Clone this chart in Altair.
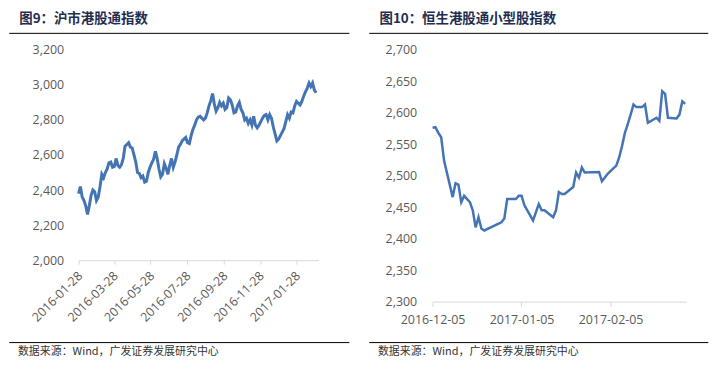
import altair as alt
import pandas as pd

# ---------------- data ----------------
left_title = "图9：沪市港股通指数"
right_title = "图10：恒生港股通小型股指数"
source_text = "数据来源：Wind，广发证券发展研究中心"

# Left: 沪市港股通指数, sampled every 3 days from 2016-01-28
left_start = "2016-01-28"
left_values = [
    2380, 2420, 2360, 2340, 2310, 2260, 2310, 2370, 2400, 2390,
    2340, 2360, 2420, 2490, 2470, 2500, 2520, 2555, 2560, 2530,
    2535, 2580, 2540, 2530, 2545, 2580, 2650, 2660, 2670, 2645,
    2640, 2600, 2560, 2500, 2495, 2470, 2480, 2445, 2450, 2500,
    2530, 2555, 2575, 2620, 2580, 2520, 2475, 2490, 2550, 2525,
    2490, 2540, 2580, 2530, 2560, 2600, 2645, 2660, 2680, 2690,
    2700, 2670, 2665, 2710, 2745, 2770, 2800, 2815, 2820, 2810,
    2800, 2810, 2840, 2880, 2910, 2950, 2890, 2850, 2870, 2900,
    2880, 2895, 2860, 2870, 2925, 2915, 2885, 2840, 2845, 2880,
    2900, 2860, 2840, 2800, 2810, 2780, 2800, 2770, 2820, 2770,
    2755, 2770, 2790, 2810, 2825, 2830, 2800, 2830, 2810, 2760,
    2720, 2680, 2690, 2710, 2730, 2750, 2790, 2830, 2810, 2845,
    2840, 2880, 2905, 2895, 2885, 2905, 2935, 2960, 2980, 3010,
    2990, 3010, 2970, 2955,
]
left_ticks = ["2016-01-28", "2016-03-28", "2016-05-28", "2016-07-28",
              "2016-09-28", "2016-11-28", "2017-01-28"]
left_domain = ["2016-01-28", "2017-03-06"]
left_y_ticks = [2000, 2200, 2400, 2600, 2800, 3000, 3200]

# Right: 恒生港股通小型股指数
right_dates = [
    "2016-12-05", "2016-12-06", "2016-12-07", "2016-12-08", "2016-12-09",
    "2016-12-12", "2016-12-13", "2016-12-14", "2016-12-15", "2016-12-16",
    "2016-12-18", "2016-12-19", "2016-12-20", "2016-12-21", "2016-12-22",
    "2016-12-23", "2016-12-28", "2016-12-29", "2016-12-30", "2016-12-31",
    "2017-01-03", "2017-01-04", "2017-01-05", "2017-01-06", "2017-01-09",
    "2017-01-11", "2017-01-12", "2017-01-13", "2017-01-16", "2017-01-17",
    "2017-01-18", "2017-01-19", "2017-01-20", "2017-01-23", "2017-01-24",
    "2017-01-25", "2017-01-26", "2017-01-27", "2017-02-01", "2017-02-02",
    "2017-02-04", "2017-02-07", "2017-02-08", "2017-02-09", "2017-02-10",
    "2017-02-11", "2017-02-12", "2017-02-13", "2017-02-14", "2017-02-16",
    "2017-02-17", "2017-02-18", "2017-02-21", "2017-02-22", "2017-02-23",
    "2017-02-24", "2017-02-25", "2017-02-28", "2017-03-01", "2017-03-02",
    "2017-03-03",
]
right_values = [
    2576, 2577, 2568, 2561, 2524,
    2466, 2488, 2486, 2458, 2468,
    2458, 2445, 2418, 2434, 2416,
    2413, 2424, 2426, 2432, 2463,
    2463, 2468, 2468, 2453, 2429,
    2455, 2445, 2445, 2434, 2445,
    2474, 2471, 2471, 2482, 2505,
    2497, 2513, 2505, 2506, 2491,
    2503, 2516, 2529, 2547, 2568,
    2582, 2597, 2613, 2609, 2609,
    2613, 2584, 2592, 2587, 2634,
    2630, 2592, 2591, 2597, 2618,
    2614,
]
right_ticks = ["2016-12-05", "2017-01-05", "2017-02-05"]
right_domain = ["2016-12-05", "2017-03-03T08:00:00"]
right_y_ticks = [2300, 2350, 2400, 2450, 2500, 2550, 2600, 2650, 2700]


def dt(s):
    t = pd.Timestamp(s)
    return alt.DateTime(year=t.year, month=t.month, date=t.day, hours=t.hour)


LINE = "#4474B4"
AXIS_GRAY = "#D9D9D9"
LABEL_GRAY = "#595959"
TITLE_COLOR = "#1F2D50"
FONT = "Open Sans"
CJK = "Noto Sans CJK SC"


def decorations(title, w_left, w_right, title_dx, src_dx):
    one = pd.DataFrame({"t": [title], "s": [source_text]})
    base = alt.Chart(one)
    # white spacer that fixes the top edge of the drawing
    spacer = base.mark_rule(color="#ffffff", strokeWidth=1).encode(
        x=alt.value(w_left), x2=alt.value(w_right), y=alt.value(-40))
    top_rule = base.mark_rule(color="#000000", strokeWidth=1).encode(
        x=alt.value(w_left), x2=alt.value(w_right), y=alt.value(-16.5))
    bottom_rule = base.mark_rule(color="#000000", strokeWidth=1).encode(
        x=alt.value(w_left), x2=alt.value(w_right), y=alt.value(294.5))
    ttl = base.mark_text(font=CJK, fontSize=13.5, fontWeight="bold",
                         color=TITLE_COLOR, align="left", baseline="middle").encode(
        x=alt.value(title_dx), y=alt.value(-31), text="t:N")
    src = base.mark_text(font=CJK, fontSize=11, color="#333333",
                         align="left", baseline="middle").encode(
        x=alt.value(src_dx), y=alt.value(303.5), text="s:N")
    return [spacer, top_rule, bottom_rule, ttl, src]


# ---------- left panel ----------
left_df = pd.DataFrame({
    "date": pd.date_range(left_start, periods=len(left_values), freq="3D"),
    "value": left_values,
})
left_line = alt.Chart(left_df).mark_line(color=LINE, strokeWidth=3).encode(
    x=alt.X("date:T",
            scale=alt.Scale(domain=[dt(d) for d in left_domain], nice=False),
            axis=alt.Axis(values=[dt(d) for d in left_ticks], format="%Y-%m-%d",
                          labelAngle=-45, labelOverlap=False, labelFlush=False,
                          title=None, grid=False,
                          tickSize=4, labelPadding=5, labelOffset=-3,
                          tickColor=AXIS_GRAY, domainColor=AXIS_GRAY,
                          labelColor=LABEL_GRAY, labelFont=FONT, labelFontSize=12.5)),
    y=alt.Y("value:Q",
            scale=alt.Scale(domain=[2000, 3200], nice=False, zero=False),
            axis=alt.Axis(values=left_y_ticks, format=",.0f", title=None, grid=False,
                          domain=False, ticks=False, labelPadding=15, labelOverlap=False,
                          labelColor=LABEL_GRAY, labelFont=FONT, labelFontSize=12.5)),
)
left = alt.layer(
    left_line, *decorations(left_title, -69.7, 272.3, -59.7, -61)
).properties(width=241.3, height=211.6)

# ---------- right panel ----------
right_df = pd.DataFrame({"date": pd.to_datetime(right_dates), "value": right_values})
right_line = alt.Chart(right_df).mark_line(color=LINE, strokeWidth=2.5).encode(
    x=alt.X("date:T",
            scale=alt.Scale(domain=[dt(d) for d in right_domain], nice=False),
            axis=alt.Axis(values=[dt(d) for d in right_ticks], format="%Y-%m-%d",
                          labelAngle=0, labelOverlap=False, labelFlush=False,
                          title=None, grid=False,
                          tickSize=5, labelPadding=7,
                          tickColor=AXIS_GRAY, domainColor=AXIS_GRAY,
                          labelColor=LABEL_GRAY, labelFont=FONT, labelFontSize=12.5)),
    y=alt.Y("value:Q",
            scale=alt.Scale(domain=[2300, 2700], nice=False, zero=False),
            axis=alt.Axis(values=right_y_ticks, format=",.0f", title=None, grid=False,
                          domain=False, ticks=False, labelPadding=16, labelOverlap=False,
                          labelColor=LABEL_GRAY, labelFont=FONT, labelFontSize=12.5)),
)
right = alt.layer(
    right_line, *decorations(right_title, -63.7, 277.3, -53.4, -55)
).properties(width=255, height=253.3)

chart = alt.hconcat(left, right, spacing=18).properties(
    padding=0, background="#ffffff"
).configure_view(stroke=None)

chart.save("out.html", embed_options={"renderer": "svg", "actions": False})
